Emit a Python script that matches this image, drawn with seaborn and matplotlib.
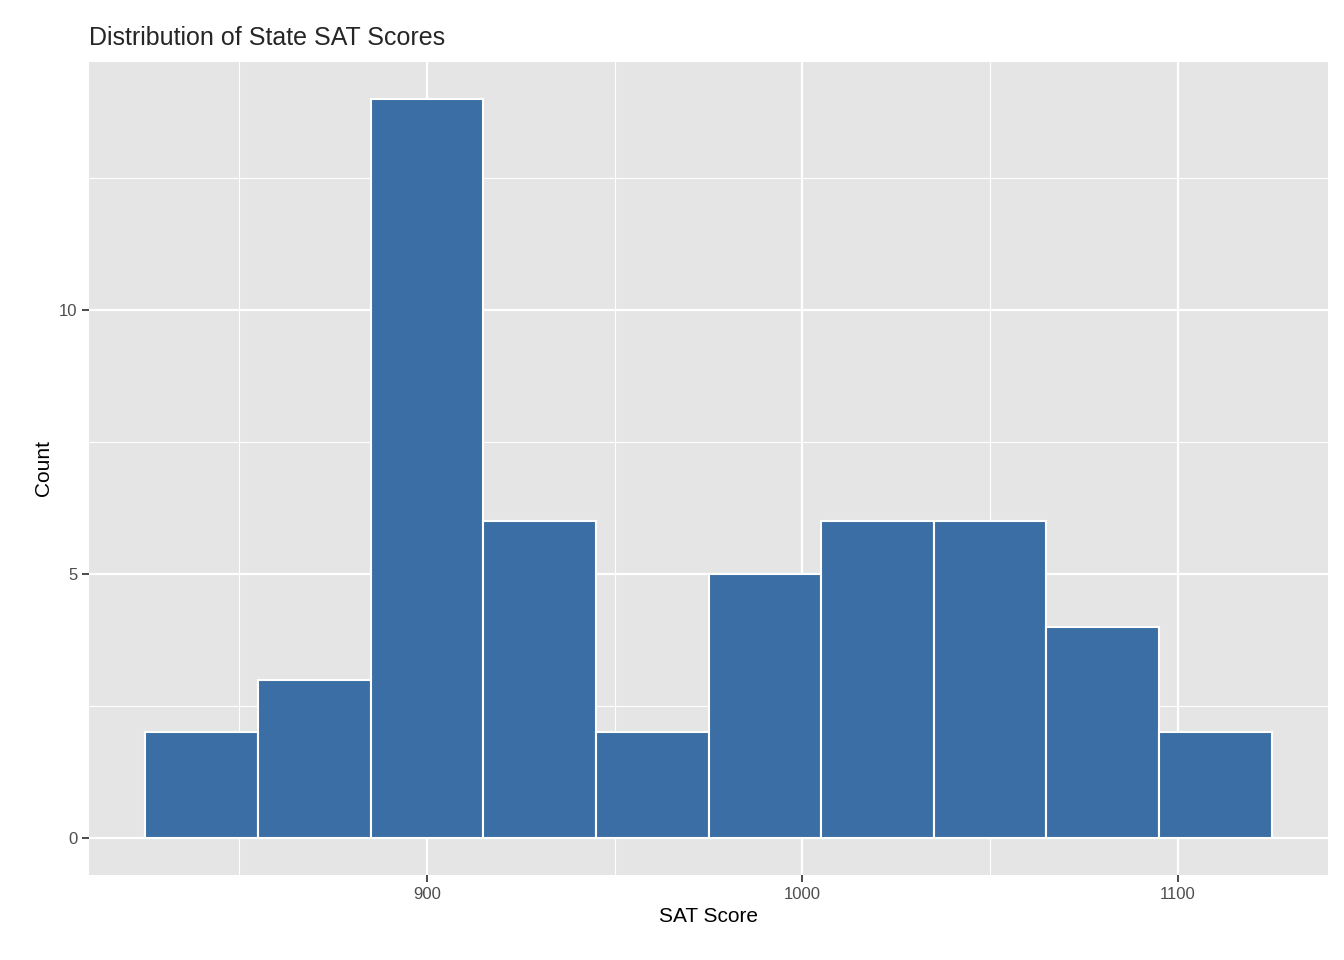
import numpy as np
import pandas as pd
import matplotlib
matplotlib.use("Agg")
import matplotlib.pyplot as plt
import seaborn as sns

# histogram bins (width 30) and counts
bin_edges = [825, 855, 885, 915, 945, 975, 1005, 1035, 1065, 1095, 1125]
counts = [2, 3, 14, 6, 2, 5, 6, 6, 4, 2]
x_ticks = [900, 1000, 1100]
y_ticks = [0, 5, 10]

centers = [(a + b) / 2 for a, b in zip(bin_edges[:-1], bin_edges[1:])]
df = pd.DataFrame({"score": centers, "n": counts})

sns.set_theme(style="darkgrid", rc={
    "axes.facecolor": "#E5E5E5", "grid.color": "white",
    "axes.edgecolor": "#E5E5E5"})
plt.rcParams["font.family"] = ["Liberation Sans", "DejaVu Sans"]

fig = plt.figure(figsize=(13.44, 9.6), dpi=100)
ax = fig.add_axes([89 / 1344, 1 - 875 / 960, (1328 - 89) / 1344, (875 - 62) / 960])
sns.histplot(data=df, x="score", weights="n", bins=bin_edges, ax=ax,
             color="#3A6EA5", edgecolor="white", linewidth=1.5, alpha=1)

ax.set_xlim(810, 1140)
ax.set_ylim(-0.7, 14.7)
ax.set_xticks(x_ticks)
ax.set_yticks(y_ticks)
ax.set_xticks([850, 950, 1050], minor=True)
ax.set_yticks([2.5, 7.5, 12.5], minor=True)
ax.grid(which="major", color="white", linewidth=1.6)
ax.grid(which="minor", color="white", linewidth=0.8)
ax.set_axisbelow(True)
ax.tick_params(axis="both", which="major", length=5, color="#333333",
               labelsize=12, labelcolor="#4D4D4D", bottom=True, left=True)
ax.tick_params(which="minor", length=0)
for s in ax.spines.values():
    s.set_visible(False)
ax.set_xlabel("SAT Score", fontsize=15, color="black")
ax.set_ylabel("Count", fontsize=15, color="black")
ax.set_title("Distribution of State SAT Scores", loc="left", fontsize=18, pad=12)

fig.savefig("out.png", dpi=100)
